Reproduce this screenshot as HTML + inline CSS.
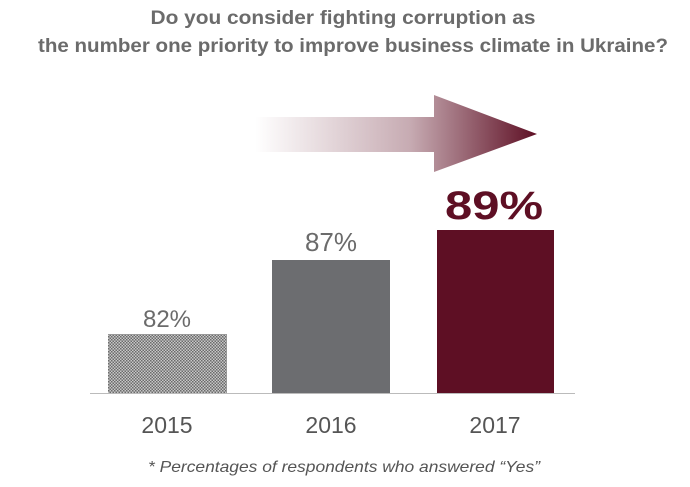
<!DOCTYPE html>
<html><head><style>html,body{margin:0;padding:0;background:#fff}</style></head>
<body>
<svg width="690" height="482" xmlns="http://www.w3.org/2000/svg" font-family="Liberation Sans, sans-serif">
<defs>
<linearGradient id="g" x1="255" y1="0" x2="537" y2="0" gradientUnits="userSpaceOnUse">
<stop offset="0" stop-color="#5e0f24" stop-opacity="0"/>
<stop offset="0.55" stop-color="#5e0f24" stop-opacity="0.35"/>
<stop offset="1" stop-color="#5e0f24" stop-opacity="1"/>
</linearGradient>
<pattern id="p" width="3" height="3" patternUnits="userSpaceOnUse">
<rect width="3" height="3" fill="#c8c8c8"/>
<rect width="1.5" height="1.5" fill="#6a6a6a"/>
<rect x="1.5" y="1.5" width="1.5" height="1.5" fill="#6a6a6a"/>
</pattern>
</defs>
<text x="343" y="24" text-anchor="middle" font-size="19" font-weight="bold" fill="#6b6b6b" textLength="385" lengthAdjust="spacingAndGlyphs">Do you consider fighting corruption as</text>
<text x="353" y="52" text-anchor="middle" font-size="19" font-weight="bold" fill="#6b6b6b" textLength="630" lengthAdjust="spacingAndGlyphs">the number one priority to improve business climate in Ukraine?</text>
<polygon points="255,117 434,117 434,95 537,134 434,172 434,152 255,152" fill="url(#g)"/>
<rect x="108" y="334" width="119" height="59" fill="url(#p)"/>
<rect x="272" y="260" width="118" height="133" fill="#6c6d70"/>
<rect x="437" y="230" width="117" height="163" fill="#5e0f24"/>
<line x1="90" y1="393.5" x2="575" y2="393.5" stroke="#bbb" stroke-width="1"/>
<text x="167" y="327" text-anchor="middle" font-size="24" fill="#6b6b6b">82%</text>
<text x="331" y="251" text-anchor="middle" font-size="26" fill="#6b6b6b">87%</text>
<text x="494" y="219" text-anchor="middle" font-size="40" font-weight="bold" fill="#5e0f24" textLength="98" lengthAdjust="spacingAndGlyphs">89%</text>
<text x="167" y="433" text-anchor="middle" font-size="23" fill="#555">2015</text>
<text x="331" y="433" text-anchor="middle" font-size="23" fill="#555">2016</text>
<text x="495" y="433" text-anchor="middle" font-size="23" fill="#555">2017</text>
<text x="344" y="472" text-anchor="middle" font-size="16" font-style="italic" fill="#555" textLength="392" lengthAdjust="spacingAndGlyphs">* Percentages of respondents who answered “Yes”</text>
</svg>
</body></html>
